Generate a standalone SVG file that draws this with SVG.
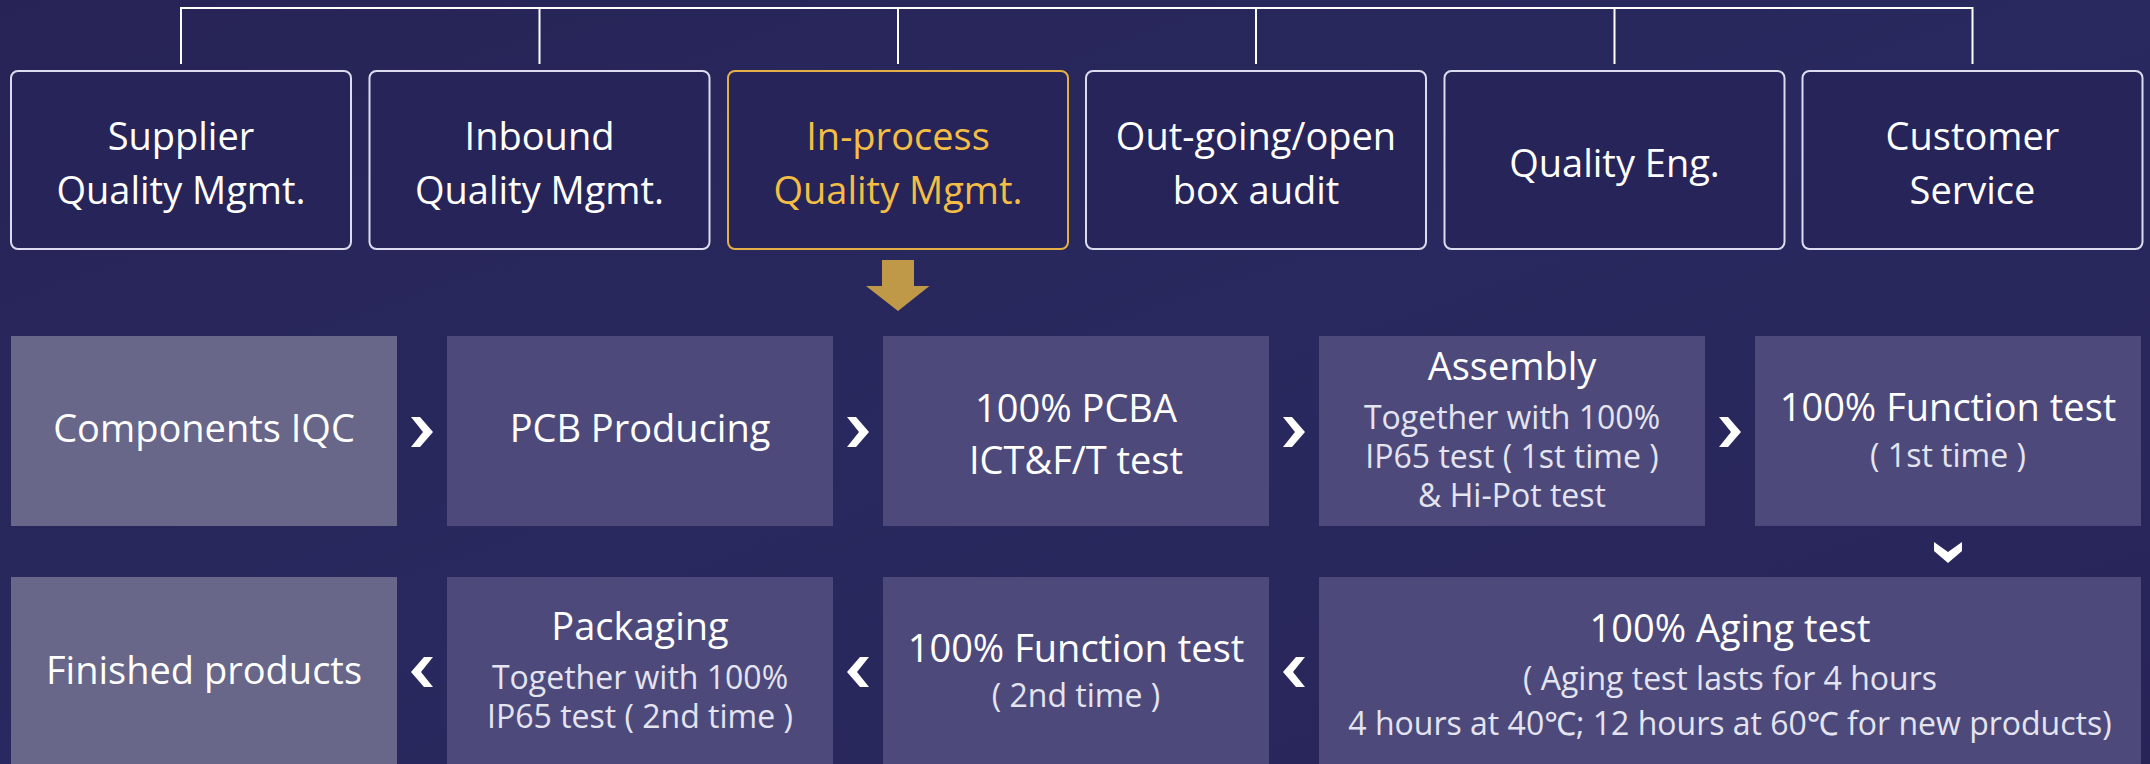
<svg xmlns="http://www.w3.org/2000/svg" width="2150" height="764" viewBox="0 0 2150 764">
<defs>
<linearGradient id="bg" x1="0" y1="0" x2="1" y2="1">
<stop offset="0" stop-color="#272356"/>
<stop offset="0.5" stop-color="#29295f"/>
<stop offset="1" stop-color="#282458"/>
</linearGradient>
<style>
text{font-family:"Open Sans","Noto Sans","Liberation Sans",sans-serif;text-anchor:middle;fill:#ffffff}
.t{font-size:38px}
.s{font-size:32px;fill:#e4e4f0}
.top rect{fill:#272459;stroke:#dcdcee;stroke-width:2}
.top.act rect{stroke:#e3b047}
.top.act text{fill:#f4bd45}
.box{fill:#4d4a7b}
.box.lt{fill:#686689}
.chev{fill:#ffffff}
.line{stroke:#ffffff;stroke-width:2;fill:none}
</style>
</defs>
<rect width="2150" height="764" fill="url(#bg)"/>
<g id="connectors">
<path class="line" d="M181 8H1972.5M181 7V64M539.5 7V64M898 7V64M1256 7V64M1614.5 7V64M1972.5 7V64"/>
<polygon fill="#bf9848" points="882,260 914,260 914,286 929.5,286 898,311 866,286 882,286"/>
<polygon class="chev" points="411,417 420,417 433,432 420,447 411,447 423,432"/>
<polygon class="chev" points="847,417 856,417 869,432 856,447 847,447 859,432"/>
<polygon class="chev" points="1283,417 1292,417 1305,432 1292,447 1283,447 1295,432"/>
<polygon class="chev" points="1719,417 1728,417 1741,432 1728,447 1719,447 1731,432"/>
<polygon class="chev" points="1934,542 1948,552 1962,542 1962,551 1948,563 1934,551"/>
<polygon class="chev" points="1305,657 1296,657 1283,672 1296,687 1305,687 1293,672"/>
<polygon class="chev" points="869,657 860,657 847,672 860,687 869,687 857,672"/>
<polygon class="chev" points="433,657 424,657 411,672 424,687 433,687 421,672"/>
</g>
<g id="n-supplier" class="top"><rect x="11" y="71" width="340" height="178" rx="7"/><text class="t" x="181" y="150">Supplier</text><text class="t" x="181" y="204">Quality Mgmt.</text></g>
<g id="n-inbound" class="top"><rect x="369.5" y="71" width="340" height="178" rx="7"/><text class="t" x="539.5" y="150">Inbound</text><text class="t" x="539.5" y="204">Quality Mgmt.</text></g>
<g id="n-inprocess" class="top act"><rect x="728" y="71" width="340" height="178" rx="7"/><text class="t" x="898" y="150">In-process</text><text class="t" x="898" y="204">Quality Mgmt.</text></g>
<g id="n-outgoing" class="top"><rect x="1086" y="71" width="340" height="178" rx="7"/><text class="t" x="1256" y="150">Out-going/open</text><text class="t" x="1256" y="204">box audit</text></g>
<g id="n-qe" class="top"><rect x="1444.5" y="71" width="340" height="178" rx="7"/><text class="t" x="1614.5" y="177">Quality Eng.</text></g>
<g id="n-cs" class="top"><rect x="1802.5" y="71" width="340" height="178" rx="7"/><text class="t" x="1972.5" y="150">Customer</text><text class="t" x="1972.5" y="204">Service</text></g>

<g id="n-iqc"><rect class="box lt" x="11" y="336" width="386" height="190"/><text class="t" x="204" y="442">Components IQC</text></g>
<g id="n-pcb"><rect class="box" x="447" y="336" width="386" height="190"/><text class="t" x="640" y="442">PCB Producing</text></g>
<g id="n-pcba"><rect class="box" x="883" y="336" width="386" height="190"/><text class="t" x="1076" y="422">100% PCBA</text><text class="t" x="1076" y="474">ICT&amp;F/T test</text></g>
<g id="n-assembly"><rect class="box" x="1319" y="336" width="386" height="190"/><text class="t" x="1512" y="380">Assembly</text><text class="s" x="1512" y="429">Together with 100%</text><text class="s" x="1512" y="468">IP65 test ( 1st time )</text><text class="s" x="1512" y="507">&amp; Hi-Pot test</text></g>
<g id="n-ft1"><rect class="box" x="1755" y="336" width="386" height="190"/><text class="t" x="1948" y="421">100% Function test</text><text class="s" x="1948" y="467">( 1st time )</text></g>

<g id="n-finished"><rect class="box lt" x="11" y="577" width="386" height="200"/><text class="t" x="204" y="684">Finished products</text></g>
<g id="n-packaging"><rect class="box" x="447" y="577" width="386" height="200"/><text class="t" x="640" y="640">Packaging</text><text class="s" x="640" y="689">Together with 100%</text><text class="s" x="640" y="728">IP65 test ( 2nd time )</text></g>
<g id="n-ft2"><rect class="box" x="883" y="577" width="386" height="200"/><text class="t" x="1076" y="662">100% Function test</text><text class="s" x="1076" y="707">( 2nd time )</text></g>
<g id="n-aging"><rect class="box" x="1319" y="577" width="822" height="200"/><text class="t" x="1730" y="642">100% Aging test</text><text class="s" x="1730" y="690">( Aging test lasts for 4 hours</text><text class="s" x="1730" y="735">4 hours at 40℃; 12 hours at 60℃ for new products)</text></g>
</svg>
